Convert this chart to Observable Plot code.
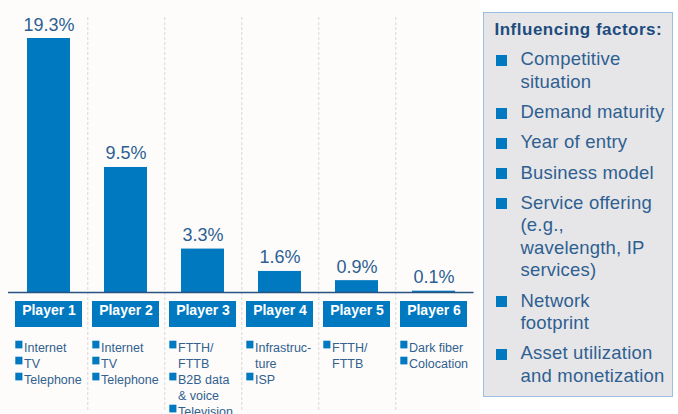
<!DOCTYPE html>
<html><head><meta charset="utf-8">
<script src="https://cdn.jsdelivr.net/npm/d3@7"></script>
<script src="https://cdn.jsdelivr.net/npm/@observablehq/plot@0.6"></script>
<style>
body{margin:0;background:#fff;font-family:"Liberation Sans",Arial,sans-serif;}
#wrap{position:relative;width:678px;height:414px;overflow:hidden;}
#chart{position:absolute;left:0;top:0;}
#factors{position:absolute;left:483px;top:12px;width:190px;height:385px;box-sizing:border-box;border:1.5px solid #9dbde3;background:#e6e6e8;padding-top:7.3px;}
#factors .ttl{font-weight:bold;font-size:17px;letter-spacing:0.5px;line-height:20px;color:#1d4c7e;margin-left:10.5px;white-space:nowrap;}
#factors .item{position:relative;margin-top:7.75px;padding-left:36.5px;font-size:18.5px;letter-spacing:0.2px;line-height:22.5px;color:#2f5f91;white-space:pre-line;}
#factors .item .b{position:absolute;left:11.5px;top:6.5px;width:11px;height:11px;background:#0079c1;}
</style>
</head><body>
<div id="wrap"><div id="chart"></div><div id="factors"></div></div>
<script>
const players = ["Player 1","Player 2","Player 3","Player 4","Player 5","Player 6"];
const shares = [19.3, 9.5, 3.3, 1.6, 0.9, 0.1];
const services = [
  ["Internet","TV","Telephone"],
  ["Internet","TV","Telephone"],
  ["FTTH/\nFTTB","B2B data\n& voice","Television"],
  ["Infrastruc-\nture","ISP"],
  ["FTTH/\nFTTB"],
  ["Dark fiber","Colocation"]
];
const factorsTitle = "Influencing factors:";
const factors = [
  "Competitive\nsituation",
  "Demand maturity",
  "Year of entry",
  "Business model",
  "Service offering\n(e.g.,\nwavelength, IP\nservices)",
  "Network\nfootprint",
  "Asset utilization\nand monetization"
];

const W = 480, H = 414, ML = 8, MR = 6.5, MT = 38, MB = 122;
const step = (W - ML - MR) / players.length;
const plotH = H - MT - MB;
const BLUE = "#0079c1";
const LINE = 16;          // px per list line
const LIST_TOP = 48;      // list offset below the baseline
const BULLET = 7.7;       // bullet square size

const rows = players.map((p, i) => ({
  player: p,
  share: shares[i],
  items: services[i].join("\n")
}));
// which list line each bullet sits on
const bulletRows = [];
players.forEach((p, i) => {
  let line = 0;
  services[i].forEach(s => { bulletRows.push({player: p, line}); line += s.split("\n").length; });
});
const maxLine = d3.max(bulletRows, d => d.line);

const bulletMarks = d3.range(maxLine + 1).map(r => {
  const top = plotH + LIST_TOP + 0.7 + r * LINE;
  return Plot.cell(bulletRows.filter(d => d.line === r), {
    x: "player", fill: BLUE,
    insetLeft: 5.3, insetRight: step - 5.3 - BULLET,
    insetTop: top, insetBottom: plotH - top - BULLET
  });
});

const chart = Plot.plot({
  width: W, height: H,
  marginLeft: ML, marginRight: MR, marginTop: MT, marginBottom: MB,
  x: {type: "band", domain: players, padding: 0, axis: null},
  y: {domain: [0, 19.3], axis: null},
  style: {background: "#fdfcfa", fontFamily: "Liberation Sans, Arial, sans-serif", overflow: "visible"},
  marks: [
    Plot.ruleX(players.slice(0, -1), {x: d => d, dx: step / 2, insetTop: -21, insetBottom: -120, stroke: "#d8d8d8", strokeDasharray: "3,2"}),
    Plot.barY(rows, {x: "player", y: "share", fill: BLUE, insetLeft: 17, insetRight: 17}),
    Plot.ruleY([0], {stroke: "#2a5280", strokeWidth: 1.5}),
    Plot.text(rows, {x: "player", y: "share", text: d => d.share.toFixed(1) + "%", lineAnchor: "bottom", dy: -8, fontSize: 18, fill: "#2d5f93"}),
    Plot.cell(rows, {x: "player", fill: BLUE, insetLeft: 5, insetRight: 5, insetTop: plotH + 9, insetBottom: -35}),
    Plot.text(rows, {x: "player", text: "player", frameAnchor: "bottom", dy: 22, fill: "white", fontWeight: "bold", fontSize: 14}),
    ...bulletMarks,
    Plot.text(rows, {x: "player", text: "items", frameAnchor: "bottom", lineAnchor: "top", dy: LIST_TOP, dx: -25, textAnchor: "start", fontSize: 12.5, lineHeight: LINE / 12.5, fill: "#32608f"})
  ]
});
document.getElementById("chart").appendChild(chart);

const box = document.getElementById("factors");
const ttl = document.createElement("div");
ttl.className = "ttl"; ttl.textContent = factorsTitle; box.appendChild(ttl);
factors.forEach((f, i) => {
  const it = document.createElement("div");
  it.className = "item";
  if (i === 0) it.style.marginTop = "8px";
  const b = document.createElement("span"); b.className = "b"; it.appendChild(b);
  it.appendChild(document.createTextNode(f));
  box.appendChild(it);
});
</script>
</body></html>
